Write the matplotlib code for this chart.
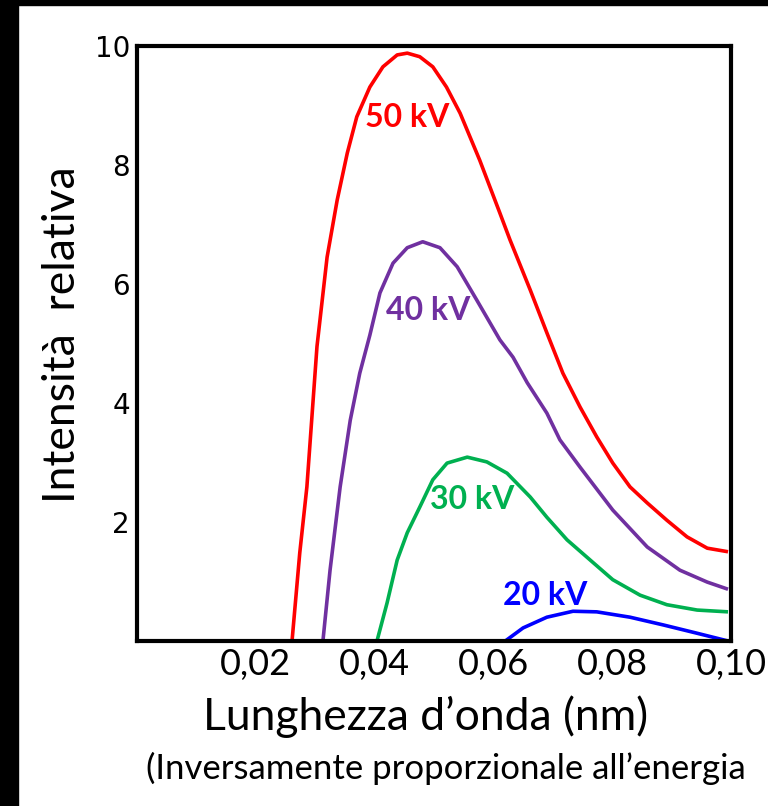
import matplotlib
matplotlib.use("Agg")
import matplotlib.pyplot as plt
from matplotlib.patches import Rectangle

# Curves (wavelength in nm, relative intensity)
x_50 = [0.0261, 0.0274, 0.0286, 0.0303, 0.0320, 0.0337, 0.0354, 0.0370, 0.0392,
        0.0414, 0.0438, 0.0455, 0.0476, 0.0498, 0.0521, 0.0544, 0.0577, 0.0611,
        0.0628, 0.0662, 0.0690, 0.0717, 0.0746, 0.0774, 0.0801, 0.0830, 0.0859,
        0.0892, 0.0926, 0.0960, 0.0995]
y_50 = [0.0, 1.48, 2.59, 4.95, 6.45, 7.41, 8.20, 8.81, 9.31,
        9.65, 9.85, 9.88, 9.82, 9.65, 9.31, 8.87, 8.08, 7.19,
        6.74, 5.90, 5.18, 4.50, 3.93, 3.43, 2.99, 2.59, 2.32,
        2.03, 1.75, 1.56, 1.50]

x_40 = [0.0313, 0.0325, 0.0342, 0.0359, 0.0375, 0.0392, 0.0409, 0.0431, 0.0455,
        0.0481, 0.0510, 0.0539, 0.0572, 0.0611, 0.0633, 0.0657, 0.0690, 0.0712,
        0.0746, 0.0801, 0.0859, 0.0914, 0.0960, 0.0995]
y_40 = [0.0, 1.19, 2.59, 3.71, 4.50, 5.14, 5.85, 6.35, 6.61,
        6.71, 6.61, 6.29, 5.73, 5.06, 4.77, 4.34, 3.83, 3.38,
        2.92, 2.20, 1.58, 1.19, 0.99, 0.87]

x_30 = [0.0404, 0.0421, 0.0438, 0.0455, 0.0476, 0.0498, 0.0522, 0.0556, 0.0589,
        0.0623, 0.0662, 0.0690, 0.0724, 0.0763, 0.0801, 0.0847, 0.0892, 0.0943,
        0.0995]
y_30 = [0.0, 0.64, 1.36, 1.82, 2.25, 2.71, 2.99, 3.09, 3.01,
        2.82, 2.42, 2.08, 1.70, 1.36, 1.03, 0.77, 0.61, 0.52,
        0.49]

x_20 = [0.0620, 0.0650, 0.0690, 0.0734, 0.0774, 0.0830, 0.0886, 0.0943, 0.0995]
y_20 = [0.0, 0.22, 0.40, 0.50, 0.49, 0.40, 0.27, 0.13, 0.0]

x_ticks = [0.02, 0.04, 0.06, 0.08, 0.10]
x_tick_labels = ['0,02', '0,04', '0,06', '0,08', '0,10']
y_ticks = [2, 4, 6, 8, 10]
y_tick_labels = ['2', '4', '6', '8', '10']

fig = plt.figure(figsize=(7.68, 8.06), dpi=100)

# black strips along the top and left edge of the slide
fig.patches.append(Rectangle((0, 0), 18 / 768, 1, transform=fig.transFigure,
                             color='black', zorder=0))
fig.patches.append(Rectangle((0, 1 - 5 / 806), 1, 5 / 806, transform=fig.transFigure,
                             color='black', zorder=0))

ax = fig.add_axes([137 / 768, 1 - 641 / 806, 594 / 768, 595 / 806])

line = dict(lw=2.6, solid_joinstyle='round', solid_capstyle='butt')
ax.plot(x_50, y_50, color='#ff0000', **line)
ax.plot(x_40, y_40, color='#7030a0', **line)
ax.plot(x_30, y_30, color='#00b050', **line)
ax.plot(x_20, y_20, color='#0000ff', **line)

lab = dict(fontfamily='Lato', fontweight='bold', fontsize=23, ha='center', va='center')
ax.text(0.0455, 8.79, '50 kV', color='#ff0000', **lab)
ax.text(0.0490, 5.56, '40 kV', color='#7030a0', **lab)
ax.text(0.0564, 2.37, '30 kV', color='#00b050', **lab)
ax.text(0.0687, 0.77, '20 kV', color='#0000ff', **lab)

ax.set_xlim(0, 0.10)
ax.set_ylim(0, 10)
ax.set_xticks(x_ticks)
ax.set_xticklabels(x_tick_labels, fontfamily='Lato', fontsize=26)
ax.set_yticks(y_ticks)
ax.set_yticklabels(y_tick_labels, fontfamily='DejaVu Sans', fontsize=20)
ax.tick_params(length=0)
ax.tick_params(axis='x', pad=5)
ax.tick_params(axis='y', pad=5)
for s in ax.spines.values():
    s.set_linewidth(3)

fig.text(63 / 768, 1 - 335 / 806, 'Intensità  relativa', rotation=90,
         fontfamily='Lato', fontsize=32, ha='center', va='center')
fig.text(426 / 768, 1 - 717 / 806, 'Lunghezza d\u2019onda (nm)',
         fontfamily='Lato', fontsize=32, ha='center', va='center')
fig.text(446 / 768, 1 - 768 / 806, '(Inversamente proporzionale all\u2019energia',
         fontfamily='Lato', fontsize=25, ha='center', va='center')

fig.savefig('out.png', dpi=100)
